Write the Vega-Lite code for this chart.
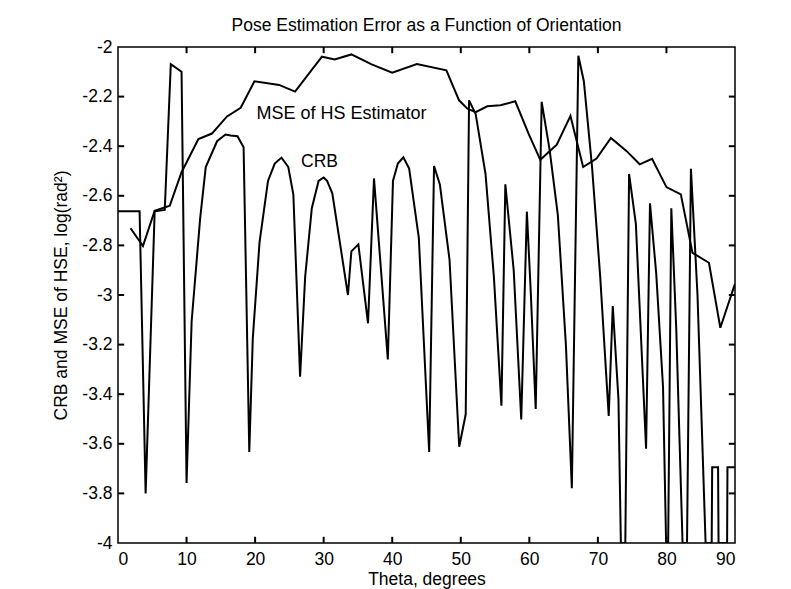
{
  "$schema": "https://vega.github.io/schema/vega-lite/v6.json",
  "width": 617,
  "height": 496,
  "autosize": {"type": "none"},
  "padding": {"left": 118, "top": 47, "right": 56, "bottom": 46},
  "background": "white",
  "config": {
    "font": "Liberation Sans",
    "view": {"stroke": "black", "strokeWidth": 1.5},
    "axis": {
      "domain": false,
      "grid": false,
      "ticks": false,
      "labelColor": "black",
      "labelFontSize": 17.5,
      "titleColor": "black",
      "titleFontSize": 17.5,
      "titleFontWeight": "normal"
    }
  },
  "title": {
    "text": "Pose Estimation Error as a Function of Orientation",
    "fontSize": 17.5,
    "fontWeight": "normal",
    "color": "black",
    "anchor": "middle",
    "offset": 4
  },
  "data": {
    "values": [
      {"series": "CRB", "theta": 0, "value": -2.662},
      {"series": "CRB", "theta": 3.15, "value": -2.662},
      {"series": "CRB", "theta": 4.03, "value": -3.8},
      {"series": "CRB", "theta": 5.35, "value": -2.662},
      {"series": "CRB", "theta": 6.82, "value": -2.657},
      {"series": "CRB", "theta": 7.7, "value": -2.069},
      {"series": "CRB", "theta": 9.27, "value": -2.1},
      {"series": "CRB", "theta": 10.0, "value": -3.758},
      {"series": "CRB", "theta": 10.74, "value": -3.107},
      {"series": "CRB", "theta": 11.98, "value": -2.692},
      {"series": "CRB", "theta": 12.8, "value": -2.484},
      {"series": "CRB", "theta": 14.45, "value": -2.38},
      {"series": "CRB", "theta": 15.68, "value": -2.353},
      {"series": "CRB", "theta": 16.44, "value": -2.357},
      {"series": "CRB", "theta": 17.43, "value": -2.36},
      {"series": "CRB", "theta": 18.32, "value": -2.404},
      {"series": "CRB", "theta": 19.15, "value": -3.633},
      {"series": "CRB", "theta": 19.66, "value": -3.176},
      {"series": "CRB", "theta": 20.64, "value": -2.789},
      {"series": "CRB", "theta": 21.88, "value": -2.54},
      {"series": "CRB", "theta": 22.86, "value": -2.47},
      {"series": "CRB", "theta": 23.85, "value": -2.446},
      {"series": "CRB", "theta": 24.84, "value": -2.484},
      {"series": "CRB", "theta": 25.58, "value": -2.595},
      {"series": "CRB", "theta": 26.56, "value": -3.329},
      {"series": "CRB", "theta": 27.3, "value": -2.927},
      {"series": "CRB", "theta": 28.27, "value": -2.65},
      {"series": "CRB", "theta": 29.26, "value": -2.54},
      {"series": "CRB", "theta": 30.0, "value": -2.526},
      {"series": "CRB", "theta": 30.5, "value": -2.54},
      {"series": "CRB", "theta": 31.26, "value": -2.59},
      {"series": "CRB", "theta": 33.54, "value": -3.0},
      {"series": "CRB", "theta": 34.04, "value": -2.824},
      {"series": "CRB", "theta": 35.06, "value": -2.796},
      {"series": "CRB", "theta": 36.47, "value": -3.114},
      {"series": "CRB", "theta": 37.34, "value": -2.53},
      {"series": "CRB", "theta": 39.36, "value": -3.26},
      {"series": "CRB", "theta": 40.11, "value": -2.54},
      {"series": "CRB", "theta": 40.82, "value": -2.47},
      {"series": "CRB", "theta": 41.62, "value": -2.445},
      {"series": "CRB", "theta": 42.47, "value": -2.49},
      {"series": "CRB", "theta": 43.88, "value": -2.77},
      {"series": "CRB", "theta": 45.39, "value": -3.633},
      {"series": "CRB", "theta": 46.1, "value": -2.48},
      {"series": "CRB", "theta": 46.95, "value": -2.554},
      {"series": "CRB", "theta": 48.36, "value": -2.858},
      {"series": "CRB", "theta": 49.77, "value": -3.612},
      {"series": "CRB", "theta": 50.72, "value": -3.481},
      {"series": "CRB", "theta": 51.21, "value": -2.215},
      {"series": "CRB", "theta": 52.17, "value": -2.27},
      {"series": "CRB", "theta": 53.61, "value": -2.512},
      {"series": "CRB", "theta": 54.83, "value": -2.927},
      {"series": "CRB", "theta": 55.93, "value": -3.446},
      {"series": "CRB", "theta": 56.5, "value": -2.554},
      {"series": "CRB", "theta": 57.72, "value": -2.9},
      {"series": "CRB", "theta": 58.82, "value": -3.502},
      {"series": "CRB", "theta": 59.64, "value": -2.664},
      {"series": "CRB", "theta": 60.2, "value": -2.983},
      {"series": "CRB", "theta": 60.93, "value": -3.46},
      {"series": "CRB", "theta": 61.8, "value": -2.221},
      {"series": "CRB", "theta": 62.96, "value": -2.415},
      {"series": "CRB", "theta": 64.16, "value": -2.678},
      {"series": "CRB", "theta": 65.34, "value": -3.204},
      {"series": "CRB", "theta": 66.2, "value": -3.779},
      {"series": "CRB", "theta": 67.15, "value": -2.035},
      {"series": "CRB", "theta": 67.95, "value": -2.138},
      {"series": "CRB", "theta": 69.15, "value": -2.484},
      {"series": "CRB", "theta": 70.34, "value": -2.927},
      {"series": "CRB", "theta": 71.58, "value": -3.488},
      {"series": "CRB", "theta": 72.17, "value": -3.045},
      {"series": "CRB", "theta": 73.0, "value": -3.42},
      {"series": "CRB", "theta": 73.35, "value": -4.0},
      {"series": "CRB", "theta": 74.0, "value": -4.0},
      {"series": "CRB", "theta": 74.55, "value": -2.512},
      {"series": "CRB", "theta": 75.54, "value": -2.713},
      {"series": "CRB", "theta": 77.03, "value": -3.62},
      {"series": "CRB", "theta": 77.6, "value": -2.63},
      {"series": "CRB", "theta": 78.51, "value": -2.914},
      {"series": "CRB", "theta": 79.5, "value": -3.37},
      {"series": "CRB", "theta": 79.95, "value": -4.0},
      {"series": "CRB", "theta": 80.25, "value": -4.0},
      {"series": "CRB", "theta": 80.71, "value": -2.65},
      {"series": "CRB", "theta": 81.43, "value": -3.135},
      {"series": "CRB", "theta": 82.35, "value": -4.0},
      {"series": "CRB", "theta": 83.0, "value": -4.0},
      {"series": "CRB", "theta": 83.57, "value": -2.491},
      {"series": "CRB", "theta": 84.53, "value": -3.0},
      {"series": "CRB", "theta": 85.71, "value": -4.0},
      {"series": "CRB", "theta": 86.6, "value": -4.0},
      {"series": "CRB", "theta": 86.67, "value": -3.695},
      {"series": "CRB", "theta": 87.53, "value": -3.695},
      {"series": "CRB", "theta": 87.6, "value": -4.0},
      {"series": "CRB", "theta": 88.85, "value": -4.0},
      {"series": "CRB", "theta": 88.9, "value": -3.695},
      {"series": "CRB", "theta": 90.0, "value": -3.695},
      {"series": "MSE", "theta": 1.83, "value": -2.731},
      {"series": "MSE", "theta": 3.64, "value": -2.803},
      {"series": "MSE", "theta": 5.35, "value": -2.66},
      {"series": "MSE", "theta": 7.55, "value": -2.64},
      {"series": "MSE", "theta": 9.27, "value": -2.505},
      {"series": "MSE", "theta": 11.73, "value": -2.371},
      {"series": "MSE", "theta": 13.7, "value": -2.349},
      {"series": "MSE", "theta": 15.9, "value": -2.28},
      {"series": "MSE", "theta": 17.9, "value": -2.245},
      {"series": "MSE", "theta": 19.9, "value": -2.138},
      {"series": "MSE", "theta": 23.5, "value": -2.153},
      {"series": "MSE", "theta": 25.83, "value": -2.18},
      {"series": "MSE", "theta": 29.75, "value": -2.039},
      {"series": "MSE", "theta": 31.6, "value": -2.05},
      {"series": "MSE", "theta": 34.04, "value": -2.03},
      {"series": "MSE", "theta": 37.0, "value": -2.07},
      {"series": "MSE", "theta": 40.0, "value": -2.104},
      {"series": "MSE", "theta": 43.6, "value": -2.069},
      {"series": "MSE", "theta": 47.9, "value": -2.094},
      {"series": "MSE", "theta": 49.75, "value": -2.215},
      {"series": "MSE", "theta": 50.97, "value": -2.249},
      {"series": "MSE", "theta": 52.17, "value": -2.263},
      {"series": "MSE", "theta": 53.86, "value": -2.239},
      {"series": "MSE", "theta": 55.78, "value": -2.235},
      {"series": "MSE", "theta": 57.95, "value": -2.219},
      {"series": "MSE", "theta": 59.9, "value": -2.35},
      {"series": "MSE", "theta": 61.6, "value": -2.455},
      {"series": "MSE", "theta": 64.0, "value": -2.394},
      {"series": "MSE", "theta": 66.0, "value": -2.278},
      {"series": "MSE", "theta": 67.85, "value": -2.484},
      {"series": "MSE", "theta": 69.8, "value": -2.45},
      {"series": "MSE", "theta": 71.9, "value": -2.367},
      {"series": "MSE", "theta": 74.2, "value": -2.42},
      {"series": "MSE", "theta": 76.1, "value": -2.473},
      {"series": "MSE", "theta": 77.9, "value": -2.451},
      {"series": "MSE", "theta": 80.0, "value": -2.565},
      {"series": "MSE", "theta": 82.1, "value": -2.594},
      {"series": "MSE", "theta": 83.8, "value": -2.83},
      {"series": "MSE", "theta": 86.2, "value": -2.87},
      {"series": "MSE", "theta": 87.86, "value": -3.132},
      {"series": "MSE", "theta": 90.0, "value": -2.955}
    ]
  },
  "layer": [
    {
      "mark": {"type": "line", "color": "black", "strokeWidth": 2, "clip": true},
      "encoding": {
        "x": {
          "field": "theta",
          "type": "quantitative",
          "scale": {"domain": [0, 90], "nice": false, "zero": false},
          "axis": {
            "orient": "bottom",
            "values": [0, 10, 20, 30, 40, 50, 60, 70, 80, 90],
            "format": "d",
            "labelPadding": 7,
            "title": "Theta, degrees",
            "titlePadding": 3
          }
        },
        "y": {
          "field": "value",
          "type": "quantitative",
          "scale": {"domain": [-4, -2], "nice": false, "zero": false},
          "axis": {
            "orient": "left",
            "values": [-2, -2.2, -2.4, -2.6, -2.8, -3, -3.2, -3.4, -3.6, -3.8, -4],
            "labelExpr": "replace(format(datum.value, '.1~f'), '\u2212', '-')",
            "labelPadding": 6,
            "title": "CRB and MSE of HSE, log(rad²)",
            "titlePadding": 11
          }
        },
        "detail": {"field": "series"}
      }
    },
    {
      "data": {"values": [{"v": -2.2}, {"v": -2.4}, {"v": -2.6}, {"v": -2.8}, {"v": -3.0}, {"v": -3.2}, {"v": -3.4}, {"v": -3.6}, {"v": -3.8}]},
      "mark": {"type": "rule", "color": "black", "strokeWidth": 2},
      "encoding": {
        "y": {"field": "v", "type": "quantitative"},
        "x": {"datum": 0, "type": "quantitative"},
        "x2": {"datum": 0.9}
      }
    },
    {
      "data": {"values": [{"v": -2.2}, {"v": -2.4}, {"v": -2.6}, {"v": -2.8}, {"v": -3.0}, {"v": -3.2}, {"v": -3.4}, {"v": -3.6}, {"v": -3.8}]},
      "mark": {"type": "rule", "color": "black", "strokeWidth": 2},
      "encoding": {
        "y": {"field": "v", "type": "quantitative"},
        "x": {"datum": 89.1, "type": "quantitative"},
        "x2": {"datum": 90}
      }
    },
    {
      "data": {"values": [{"v": 10}, {"v": 20}, {"v": 30}, {"v": 40}, {"v": 50}, {"v": 60}, {"v": 70}, {"v": 80}]},
      "mark": {"type": "rule", "color": "black", "strokeWidth": 2},
      "encoding": {
        "x": {"field": "v", "type": "quantitative"},
        "y": {"datum": -4, "type": "quantitative"},
        "y2": {"datum": -3.975}
      }
    },
    {
      "data": {"values": [{"v": 10}, {"v": 20}, {"v": 30}, {"v": 40}, {"v": 50}, {"v": 60}, {"v": 70}, {"v": 80}]},
      "mark": {"type": "rule", "color": "black", "strokeWidth": 2},
      "encoding": {
        "x": {"field": "v", "type": "quantitative"},
        "y": {"datum": -2.025, "type": "quantitative"},
        "y2": {"datum": -2}
      }
    },
    {
      "data": {"values": [{}]},
      "mark": {"type": "text", "fontSize": 18, "color": "black", "align": "center", "baseline": "middle"},
      "encoding": {
        "x": {"datum": 32.6, "type": "quantitative"},
        "y": {"datum": -2.27, "type": "quantitative"},
        "text": {"value": "MSE of HS Estimator"}
      }
    },
    {
      "data": {"values": [{}]},
      "mark": {"type": "text", "fontSize": 17.5, "color": "black", "align": "center", "baseline": "middle"},
      "encoding": {
        "x": {"datum": 29.4, "type": "quantitative"},
        "y": {"datum": -2.465, "type": "quantitative"},
        "text": {"value": "CRB"}
      }
    }
  ]
}
